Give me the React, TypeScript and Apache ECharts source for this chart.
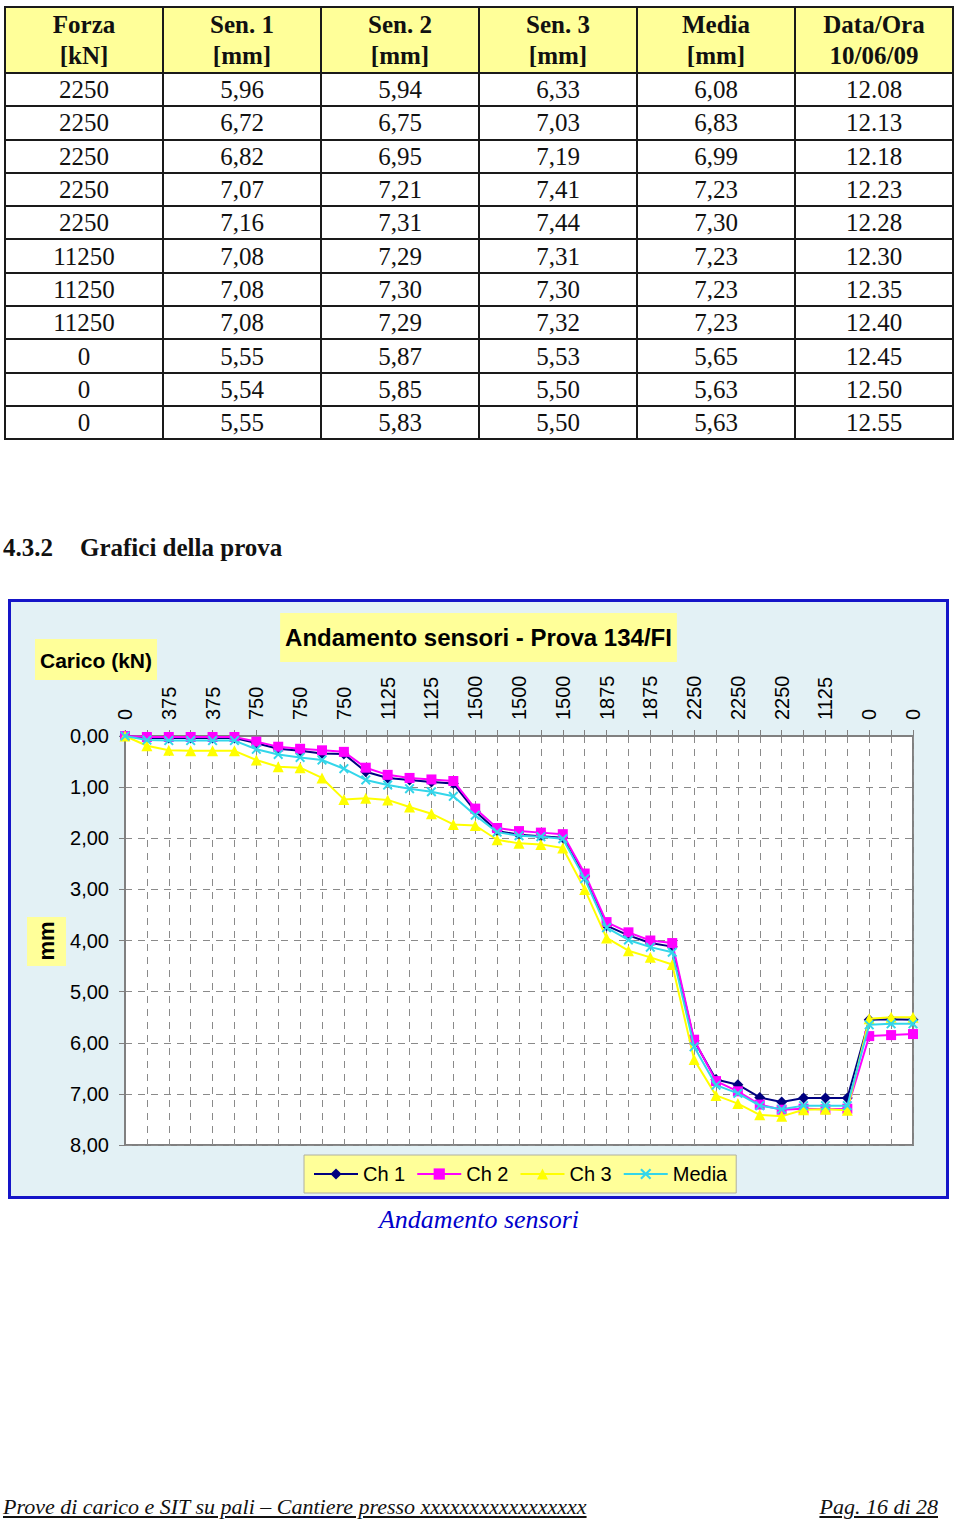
import React, { useEffect, useRef } from "react";
import * as echarts from "echarts";

// ---- Table data (Forza / sensori) ----
const forza = ["2250", "2250", "2250", "2250", "2250", "11250", "11250", "11250", "0", "0", "0"];
const sen1 = [5.96, 6.72, 6.82, 7.07, 7.16, 7.08, 7.08, 7.08, 5.55, 5.54, 5.55];
const sen2 = [5.94, 6.75, 6.95, 7.21, 7.31, 7.29, 7.3, 7.29, 5.87, 5.85, 5.83];
const sen3 = [6.33, 7.03, 7.19, 7.41, 7.44, 7.31, 7.3, 7.32, 5.53, 5.5, 5.5];
const media = [6.08, 6.83, 6.99, 7.23, 7.3, 7.23, 7.23, 7.23, 5.65, 5.63, 5.63];
const dataOra = ["12.08", "12.13", "12.18", "12.23", "12.28", "12.30", "12.35", "12.40", "12.45", "12.50", "12.55"];
const headers = [
  ["Forza", "[kN]"],
  ["Sen. 1", "[mm]"],
  ["Sen. 2", "[mm]"],
  ["Sen. 3", "[mm]"],
  ["Media", "[mm]"],
  ["Data/Ora", "10/06/09"],
];

// ---- Chart data ----
const carico = [
  "0",
  "375", "375", "375", "375", "375",
  "750", "750", "750", "750", "750",
  "1125", "1125", "1125", "1125", "1125",
  "1500", "1500", "1500", "1500", "1500",
  "1875", "1875", "1875", "1875", "1875",
  "2250", "2250", "2250", "2250", "2250",
  "1125", "1125", "1125",
  "0", "0", "0",
];
// readings before the tabulated ones
const ch1Early = [0, 0.04, 0.04, 0.04, 0.04, 0.04, 0.14, 0.25, 0.29, 0.34, 0.35, 0.7, 0.82, 0.86, 0.9, 0.93, 1.47, 1.86, 1.93, 1.96, 1.99, 2.74, 3.71, 3.9, 4.05, 4.12];
const ch2Early = [0, 0.02, 0.02, 0.02, 0.02, 0.02, 0.11, 0.21, 0.25, 0.28, 0.31, 0.62, 0.76, 0.82, 0.85, 0.88, 1.42, 1.8, 1.86, 1.89, 1.92, 2.69, 3.64, 3.84, 4.0, 4.05];
const ch3Early = [0, 0.19, 0.28, 0.29, 0.29, 0.29, 0.47, 0.6, 0.62, 0.82, 1.24, 1.22, 1.25, 1.39, 1.52, 1.73, 1.75, 2.03, 2.1, 2.12, 2.19, 3.0, 3.95, 4.2, 4.33, 4.47];
const mediaEarly = [0, 0.08, 0.09, 0.09, 0.09, 0.09, 0.26, 0.36, 0.42, 0.47, 0.64, 0.86, 0.96, 1.03, 1.09, 1.18, 1.55, 1.88, 1.95, 1.97, 2.01, 2.79, 3.75, 3.99, 4.13, 4.23];
const seriesNames = ["Ch 1", "Ch 2", "Ch 3", "Media"];

const fmt = (v: number) => v.toFixed(2).replace(".", ",");

const SANS = "'Liberation Sans', Arial, Helvetica, sans-serif";
const SERIF = "'Liberation Serif', 'Times New Roman', serif";

const XMARK = "path://M0,1.4 L1.4,0 L5,3.6 L8.6,0 L10,1.4 L6.4,5 L10,8.6 L8.6,10 L5,6.4 L1.4,10 L0,8.6 L3.6,5 Z";

function Chart() {
  const ref = useRef<HTMLDivElement>(null);
  useEffect(() => {
    if (!ref.current) return;
    const chart = echarts.init(ref.current, undefined, { renderer: "svg" });
    const ch1 = [...ch1Early, ...sen1];
    const ch2 = [...ch2Early, ...sen2];
    const ch3 = [...ch3Early, ...sen3];
    const med = [...mediaEarly, ...media];
    const colors = ["#000080", "#FF00FF", "#FFFF00", "#33D6EA"];
    const symbols = ["diamond", "rect", "triangle", XMARK];
    const sizes = [11, 10, 11, 10];
    const values = [ch1, ch2, ch3, med];
    chart.setOption({
      animation: false,
      title: {
        text: "Andamento sensori - Prova 134/FI",
        left: "center",
        top: 11,
        backgroundColor: "#FFFF99",
        padding: [12, 5, 12, 5],
        textStyle: { fontFamily: SANS, fontSize: 24, fontWeight: "bold", color: "#000", lineHeight: 25 },
      },
      graphic: [
        { type: "rect", shape: { x: 24, y: 37, width: 122, height: 41 }, style: { fill: "#FFFF99" } },
        {
          type: "text",
          x: 85,
          y: 58,
          style: { text: "Carico (kN)", font: `bold 21px ${SANS}`, fill: "#000", textAlign: "center", textVerticalAlign: "middle" },
        },
        { type: "rect", shape: { x: 16, y: 315, width: 39, height: 49 }, style: { fill: "#FFFF99" } },
        {
          type: "text",
          x: 35,
          y: 339,
          rotation: Math.PI / 2,
          style: { text: "mm", font: `bold 22px ${SANS}`, fill: "#000", textAlign: "center", textVerticalAlign: "middle" },
        },
      ],
      legend: {
        left: 293,
        top: 553,
        padding: [9, 9],
        itemGap: 11,
        itemWidth: 44,
        itemHeight: 14,
        backgroundColor: "#FFFF99",
        borderColor: "#b0b0a0",
        borderWidth: 1,
        textStyle: { fontFamily: SANS, fontSize: 20, color: "#000", lineHeight: 20 },
        data: seriesNames,
      },
      grid: {
        left: 114,
        top: 134,
        width: 788,
        height: 409,
        show: true,
        backgroundColor: "#ffffff",
        borderColor: "#808080",
        borderWidth: 2,
      },
      xAxis: {
        type: "category",
        position: "top",
        boundaryGap: false,
        data: carico,
        axisLine: { show: true, lineStyle: { color: "#808080", width: 2 } },
        axisTick: { show: true, interval: 0, length: 6, lineStyle: { color: "#808080" } },
        axisLabel: { interval: 1, rotate: 90, margin: 16, fontSize: 20, color: "#000", fontFamily: SANS },
        splitLine: { show: true, interval: 0, lineStyle: { type: [7, 6], color: "#8a8a8a", width: 1 } },
      },
      yAxis: {
        type: "value",
        inverse: true,
        min: 0,
        max: 8,
        interval: 1,
        axisLine: { show: true, lineStyle: { color: "#808080", width: 2 } },
        axisTick: { show: true, length: 6, lineStyle: { color: "#808080" } },
        axisLabel: { formatter: (v: number) => fmt(v), margin: 16, fontSize: 20, color: "#000", fontFamily: SANS },
        splitLine: { show: true, lineStyle: { type: [7, 6], color: "#8a8a8a", width: 1 } },
      },
      series: seriesNames.map((name, k) => ({
        name,
        type: "line",
        data: values[k],
        symbol: symbols[k],
        symbolSize: sizes[k],
        showAllSymbol: true,
        lineStyle: { color: colors[k], width: 2 },
        itemStyle: { color: colors[k] },
        z: 2 + k,
      })),
    });
    return () => chart.dispose();
  }, []);
  return <div ref={ref} style={{ position: "absolute", left: 0, top: 0, width: 935, height: 594 }} />;
}

const cellBorder = "2px solid #1a1a1a";

export default function App() {
  return (
    <div style={{ position: "absolute", left: 0, top: 0, width: 960, height: 1522, background: "#fff", overflow: "hidden" }}>
      <table
        style={{
          position: "absolute",
          left: 4,
          top: 6,
          width: 950,
          borderCollapse: "collapse",
          tableLayout: "fixed",
          fontFamily: SERIF,
          fontSize: 25,
          color: "#111",
        }}
      >
        <thead>
          <tr style={{ height: 66, background: "#FFFF99" }}>
            {headers.map((h, i) => (
              <th key={i} style={{ border: cellBorder, padding: 0, lineHeight: "31px", fontWeight: "bold", textAlign: "center" }}>
                {h[0]}
                <br />
                {h[1]}
              </th>
            ))}
          </tr>
        </thead>
        <tbody>
          {forza.map((f, r) => (
            <tr key={r} style={{ height: 33.3 }}>
              {[f, fmt(sen1[r]), fmt(sen2[r]), fmt(sen3[r]), fmt(media[r]), dataOra[r]].map((c, i) => (
                <td key={i} style={{ border: cellBorder, padding: 0, lineHeight: "29px", textAlign: "center" }}>
                  {c}
                </td>
              ))}
            </tr>
          ))}
        </tbody>
      </table>

      <div style={{ position: "absolute", left: 3, top: 533, height: 30, lineHeight: "30px", fontFamily: SERIF, fontSize: 25, fontWeight: "bold", color: "#111", whiteSpace: "nowrap" }}>
        4.3.2
      </div>
      <div style={{ position: "absolute", left: 80, top: 533, height: 30, lineHeight: "30px", fontFamily: SERIF, fontSize: 25, fontWeight: "bold", color: "#111", whiteSpace: "nowrap" }}>
        Grafici della prova
      </div>

      <div
        style={{
          position: "absolute",
          left: 8,
          top: 599,
          width: 941,
          height: 600,
          boxSizing: "border-box",
          border: "3px solid #1515C8",
          background: "#E3F1F5",
        }}
      >
        <Chart />
      </div>

      <div style={{ position: "absolute", left: 0, top: 1205, width: 958, textAlign: "center", lineHeight: "30px", fontFamily: SERIF, fontStyle: "italic", fontSize: 26, color: "#0000CC" }}>
        Andamento sensori
      </div>

      <div style={{ position: "absolute", left: 3, top: 1494, lineHeight: "26px", fontFamily: SERIF, fontStyle: "italic", fontSize: 22, color: "#111", textDecoration: "underline", whiteSpace: "nowrap" }}>
        Prove di carico e SIT su pali – Cantiere presso xxxxxxxxxxxxxxxxx
      </div>
      <div style={{ position: "absolute", right: 22, top: 1494, lineHeight: "26px", fontFamily: SERIF, fontStyle: "italic", fontSize: 22, color: "#111", textDecoration: "underline", whiteSpace: "nowrap" }}>
        Pag. 16 di 28
      </div>
    </div>
  );
}
